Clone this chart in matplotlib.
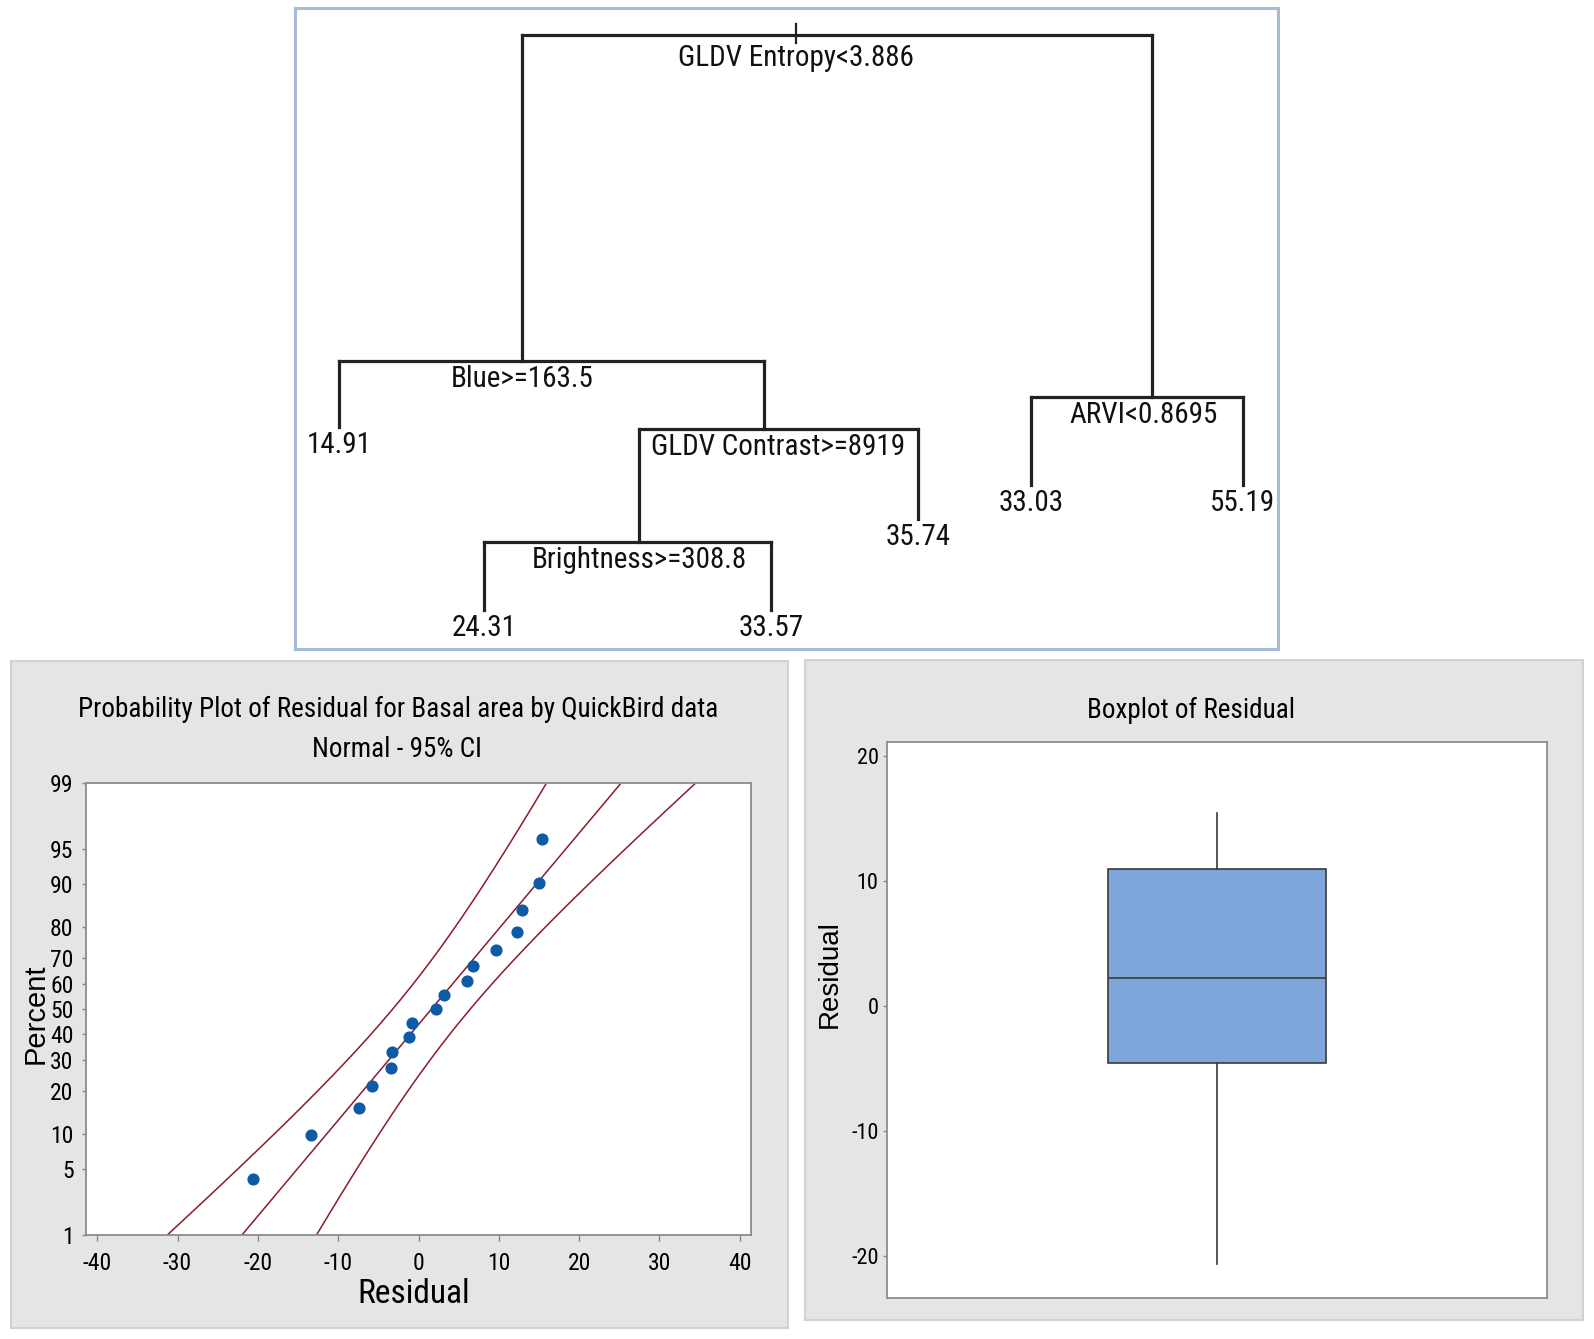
import matplotlib
matplotlib.use("Agg")
import matplotlib.pyplot as plt
from matplotlib.patches import Rectangle
from statistics import NormalDist
import numpy as np

# --- regression tree -------------------------------------------------------
node_ids = ["root", "blue", "arvi", "l1491", "contrast", "bright",
            "l2431", "l3357", "l3574", "l3303", "l5519"]
node_parent = [None, "root", "root", "blue", "blue", "contrast",
               "bright", "bright", "contrast", "arvi", "arvi"]
node_label = ["GLDV Entropy<3.886", "Blue>=163.5", "ARVI<0.8695", "14.91",
              "GLDV Contrast>=8919", "Brightness>=308.8", "24.31", "33.57",
              "35.74", "33.03", "55.19"]
# layout of the tree (pixels inside the tree frame: x from left, y from top)
node_x = [501, 227, 857, 44, 469, 344, 189, 476, 623, 736, 948]
node_y = [27, 353, 389, 419, 421, 534, 602, 602, 511, 477, 477]
label_x = [501, 227, 849, 44, 483, 344, 189, 476, 623, 736, 948]

# --- residuals ------------------------------------------------------------
residual = [-20.66, -13.43, -7.45, -5.79, -3.46, -3.26, -1.14, -0.76, 2.2,
            3.15, 6.09, 6.83, 9.63, 12.32, 12.87, 15.04, 15.4]
pct_ticks = [1, 5, 10, 20, 30, 40, 50, 60, 70, 80, 90, 95, 99]
x_ticks = [-40, -30, -20, -10, 0, 10, 20, 30, 40]
box_ticks = [-20, -10, 0, 10, 20]

W, H = 1594, 1339
narrow = ["Roboto Condensed", "Archivo Narrow", "DejaVu Sans"]
plain = ["Liberation Sans", "DejaVu Sans"]


def frame(x0, y0, x1, y1):
    return [x0 / W, 1 - y1 / H, (x1 - x0) / W, (y1 - y0) / H]


def ftext(x, y, s, **kw):
    return fig.text(x / W, 1 - y / H, s, **kw)


fig = plt.figure(figsize=(W / 100, H / 100), dpi=100)
fig.patch.set_facecolor("white")

# gray panels behind the two lower plots
for x0, y0, x1, y1 in [(11, 661, 788, 1328), (805, 660, 1583, 1320)]:
    fig.add_artist(Rectangle((x0 / W, 1 - y1 / H), (x1 - x0) / W, (y1 - y0) / H,
                             transform=fig.transFigure, facecolor="#e5e5e5",
                             edgecolor="#d2d2d2", lw=1.5, zorder=0))

# ---------------- tree ----------------
ax_t = fig.add_axes(frame(295, 8, 1278, 649))
ax_t.set_xlim(0, 983)
ax_t.set_ylim(641, 0)
ax_t.set_xticks([])
ax_t.set_yticks([])
for s in ax_t.spines.values():
    s.set_color("#a9bcd6")
    s.set_linewidth(2.2)

pos = {n: (x, y) for n, x, y in zip(node_ids, node_x, node_y)}
lw = 2.3
col = "#222222"
ax_t.plot([pos["root"][0]] * 2, [16, 35], color=col, lw=1.6)
for i, n in enumerate(node_ids):
    kids = [k for k, p in zip(node_ids, node_parent) if p == n]
    x, y = pos[n]
    if kids:
        xs = [pos[k][0] for k in kids]
        ax_t.plot([min(xs), max(xs)], [y, y], color=col, lw=lw, solid_capstyle="projecting")
        for k in kids:
            ax_t.plot([pos[k][0]] * 2, [y, pos[k][1]], color=col, lw=lw)
    off = 31 if n == "root" else 26
    ax_t.text(label_x[i], y + off, node_label[i], ha="center", va="baseline",
              fontsize=21, family=narrow, color="#111111")

# ---------------- probability plot ----------------
nd = NormalDist()
ax_p = fig.add_axes(frame(86, 783, 751, 1235))
r = np.sort(np.array(residual))
n = len(r)
rank_p = (np.arange(1, n + 1) - 0.3) / (n + 0.4)
z_pts = np.array([nd.inv_cdf(p) for p in rank_p])
mu = r.mean()
sd = r.std(ddof=1)
z = np.linspace(nd.inv_cdf(0.005), nd.inv_cdf(0.995), 200)
fit = mu + sd * z
half = 1.96 * sd / np.sqrt(n) * np.sqrt(1 + z ** 2 / 2)
line_col = "#8a1c2b"
for yv in (fit - half, fit, fit + half):
    ax_p.plot(yv, z, color=line_col, lw=1.1)
ax_p.scatter(r, z_pts, s=60, color="#0d5aa7", zorder=3)
ax_p.set_xlim(-41.4, 41.4)
ax_p.set_ylim(nd.inv_cdf(0.01), nd.inv_cdf(0.99))
ax_p.set_xticks(x_ticks)
ax_p.set_xticklabels([str(t) for t in x_ticks], family=narrow, fontsize=17)
ax_p.set_yticks([nd.inv_cdf(p / 100) for p in pct_ticks])
ax_p.set_yticklabels([str(p) for p in pct_ticks], family=narrow, fontsize=17)
ax_p.tick_params(axis="x", color="#888888", length=4, width=1, pad=8)
ax_p.tick_params(axis="y", color="#888888", length=3, width=1, pad=6)
for s in ax_p.spines.values():
    s.set_color("#8c8c8c")
    s.set_linewidth(1.3)
ftext(398, 717, "Probability Plot of Residual for Basal area by QuickBird data",
      ha="center", va="baseline", fontsize=19.5, family=narrow)
ftext(397, 757, "Normal - 95% CI", ha="center", va="baseline", fontsize=19.5, family=narrow)
ftext(414, 1294, "Residual", ha="center", va="center", fontsize=24, family=narrow)
ftext(36, 1014, "Percent", ha="center", va="center", rotation=90,
      fontsize=21, family=plain)

# ---------------- boxplot ----------------
ax_b = fig.add_axes(frame(887, 742, 1547, 1298))
q1, med, q3 = np.percentile(r, [25, 50, 75], method="weibull")
iqr = q3 - q1
lo = r[r >= q1 - 1.5 * iqr].min()
hi = r[r <= q3 + 1.5 * iqr].max()
stats = [dict(med=med, q1=q1, q3=q3, whislo=lo, whishi=hi, fliers=[])]
ax_b.bxp(stats, positions=[0], widths=0.33, showcaps=False, patch_artist=True,
         boxprops=dict(facecolor="#7ea6da", edgecolor="#3a3a3a", lw=1.2),
         medianprops=dict(color="#3a3a3a", lw=1.2),
         whiskerprops=dict(color="#3a3a3a", lw=1.2))
ax_b.set_xlim(-0.5, 0.5)
ax_b.set_ylim(-23.4, 21.1)
ax_b.set_xticks([])
ax_b.set_yticks(box_ticks)
ax_b.set_yticklabels([str(t) for t in box_ticks], family=narrow, fontsize=16)
ax_b.tick_params(color="#888888", length=3, width=1, pad=3)
for s in ax_b.spines.values():
    s.set_color("#8c8c8c")
    s.set_linewidth(1.3)
ftext(1191, 718, "Boxplot of Residual", ha="center", va="baseline",
      fontsize=19.5, family=narrow)
ftext(830, 974, "Residual", ha="center", va="center", rotation=90,
      fontsize=20, family=plain)

fig.savefig("out.png", dpi=100)
